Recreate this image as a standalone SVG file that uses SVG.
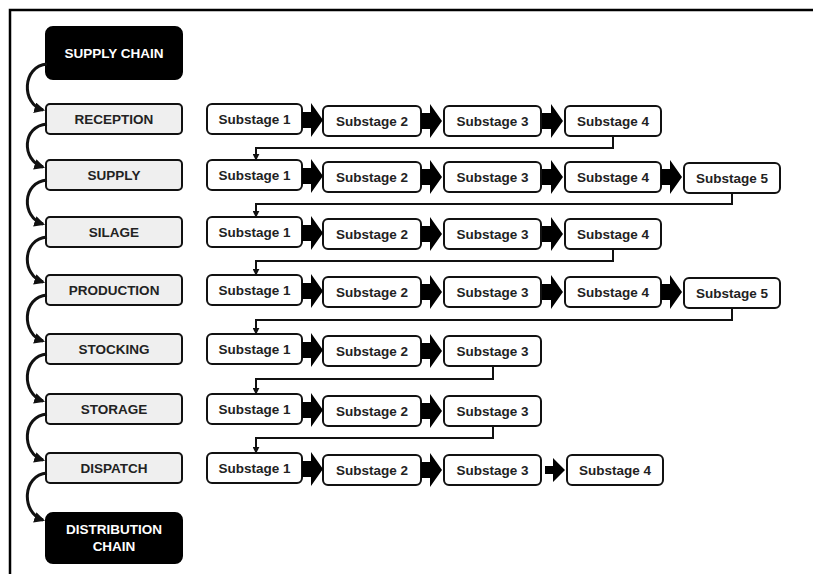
<svg xmlns="http://www.w3.org/2000/svg" width="813" height="574" viewBox="0 0 813 574">
<style>
.frame{stroke:#000;stroke-width:2.5;fill:none}
.dark{fill:#000;stroke:#000;stroke-width:2}
.stage{fill:#efefef;stroke:#111;stroke-width:2}
.sub{fill:#fff;stroke:#111;stroke-width:2}
.tw{font-family:"Liberation Sans",Arial,sans-serif;font-weight:bold;font-size:13.5px;fill:#fff;text-anchor:middle}
.tb{font-family:"Liberation Sans",Arial,sans-serif;font-weight:bold;font-size:13.5px;fill:#222;text-anchor:middle}
.curve{fill:none;stroke:#111;stroke-width:3}
.link{fill:none;stroke:#111;stroke-width:2}
.blk{fill:#000}
</style>
<defs>
<marker id="ah" viewBox="0 0 10 10" refX="8" refY="5" markerWidth="3.6" markerHeight="3.6" orient="auto" markerUnits="strokeWidth">
<path d="M0,0 L10,5 L0,10 Z" fill="#111"/>
</marker>
<marker id="ah2" viewBox="0 0 10 10" refX="9" refY="5" markerWidth="3.5" markerHeight="3.5" orient="auto" markerUnits="strokeWidth">
<path d="M0,0 L10,5 L0,10 Z" fill="#111"/>
</marker>
<path id="ba" d="M0,-8 H9 V-17 L21,0 L9,17 V8 H0 Z"/>
</defs>
<rect width="813" height="574" fill="#fff"/>
<path class="frame" d="M10,574 V10 H813"/>

<g id="supply-chain"><rect class="dark" x="46" y="27" width="136" height="52" rx="7"/><text class="tw" x="114" y="57.5">SUPPLY CHAIN</text></g>
<g id="reception"><rect class="stage" x="46" y="104" width="136" height="30" rx="4"/><text class="tb" x="114" y="123.7">RECEPTION</text></g>
<g id="supply"><rect class="stage" x="46" y="160" width="136" height="30" rx="4"/><text class="tb" x="114" y="179.7">SUPPLY</text></g>
<g id="silage"><rect class="stage" x="46" y="217" width="136" height="30" rx="4"/><text class="tb" x="114" y="236.7">SILAGE</text></g>
<g id="production"><rect class="stage" x="46" y="275" width="136" height="30" rx="4"/><text class="tb" x="114" y="294.7">PRODUCTION</text></g>
<g id="stocking"><rect class="stage" x="46" y="334" width="136" height="30" rx="4"/><text class="tb" x="114" y="353.7">STOCKING</text></g>
<g id="storage"><rect class="stage" x="46" y="394" width="136" height="30" rx="4"/><text class="tb" x="114" y="413.7">STORAGE</text></g>
<g id="dispatch"><rect class="stage" x="46" y="453" width="136" height="30" rx="4"/><text class="tb" x="114" y="472.7">DISPATCH</text></g>
<g id="distribution-chain"><rect class="dark" x="46" y="513" width="136" height="50" rx="7"/><text class="tw" x="114" y="534">DISTRIBUTION</text><text class="tw" x="114" y="551">CHAIN</text></g>

<g id="r1s1"><rect class="sub" x="207" y="104" width="95" height="30" rx="5"/><text class="tb" x="254.5" y="123.7">Substage 1</text></g>
<g id="r1s2"><rect class="sub" x="323" y="106" width="98" height="30" rx="5"/><text class="tb" x="372" y="125.7">Substage 2</text></g>
<g id="r1s3"><rect class="sub" x="444" y="106" width="97" height="30" rx="5"/><text class="tb" x="492.5" y="125.7">Substage 3</text></g>
<g id="r1s4"><rect class="sub" x="565" y="106" width="96" height="30" rx="5"/><text class="tb" x="613" y="125.7">Substage 4</text></g>

<g id="r2s1"><rect class="sub" x="207" y="160" width="95" height="30" rx="5"/><text class="tb" x="254.5" y="179.7">Substage 1</text></g>
<g id="r2s2"><rect class="sub" x="323" y="162" width="98" height="30" rx="5"/><text class="tb" x="372" y="181.7">Substage 2</text></g>
<g id="r2s3"><rect class="sub" x="444" y="162" width="97" height="30" rx="5"/><text class="tb" x="492.5" y="181.7">Substage 3</text></g>
<g id="r2s4"><rect class="sub" x="565" y="162" width="96" height="30" rx="5"/><text class="tb" x="613" y="181.7">Substage 4</text></g>
<g id="r2s5"><rect class="sub" x="684" y="163" width="96" height="30" rx="5"/><text class="tb" x="732" y="182.7">Substage 5</text></g>

<g id="r3s1"><rect class="sub" x="207" y="217" width="95" height="30" rx="5"/><text class="tb" x="254.5" y="236.7">Substage 1</text></g>
<g id="r3s2"><rect class="sub" x="323" y="219" width="98" height="30" rx="5"/><text class="tb" x="372" y="238.7">Substage 2</text></g>
<g id="r3s3"><rect class="sub" x="444" y="219" width="97" height="30" rx="5"/><text class="tb" x="492.5" y="238.7">Substage 3</text></g>
<g id="r3s4"><rect class="sub" x="565" y="219" width="96" height="30" rx="5"/><text class="tb" x="613" y="238.7">Substage 4</text></g>

<g id="r4s1"><rect class="sub" x="207" y="275" width="95" height="30" rx="5"/><text class="tb" x="254.5" y="294.7">Substage 1</text></g>
<g id="r4s2"><rect class="sub" x="323" y="277" width="98" height="30" rx="5"/><text class="tb" x="372" y="296.7">Substage 2</text></g>
<g id="r4s3"><rect class="sub" x="444" y="277" width="97" height="30" rx="5"/><text class="tb" x="492.5" y="296.7">Substage 3</text></g>
<g id="r4s4"><rect class="sub" x="565" y="277" width="96" height="30" rx="5"/><text class="tb" x="613" y="296.7">Substage 4</text></g>
<g id="r4s5"><rect class="sub" x="684" y="278" width="96" height="30" rx="5"/><text class="tb" x="732" y="297.7">Substage 5</text></g>

<g id="r5s1"><rect class="sub" x="207" y="334" width="95" height="30" rx="5"/><text class="tb" x="254.5" y="353.7">Substage 1</text></g>
<g id="r5s2"><rect class="sub" x="323" y="336" width="98" height="30" rx="5"/><text class="tb" x="372" y="355.7">Substage 2</text></g>
<g id="r5s3"><rect class="sub" x="444" y="336" width="97" height="30" rx="5"/><text class="tb" x="492.5" y="355.7">Substage 3</text></g>

<g id="r6s1"><rect class="sub" x="207" y="394" width="95" height="30" rx="5"/><text class="tb" x="254.5" y="413.7">Substage 1</text></g>
<g id="r6s2"><rect class="sub" x="323" y="396" width="98" height="30" rx="5"/><text class="tb" x="372" y="415.7">Substage 2</text></g>
<g id="r6s3"><rect class="sub" x="444" y="396" width="97" height="30" rx="5"/><text class="tb" x="492.5" y="415.7">Substage 3</text></g>

<g id="r7s1"><rect class="sub" x="207" y="453" width="95" height="30" rx="5"/><text class="tb" x="254.5" y="472.7">Substage 1</text></g>
<g id="r7s2"><rect class="sub" x="323" y="455" width="98" height="30" rx="5"/><text class="tb" x="372" y="474.7">Substage 2</text></g>
<g id="r7s3"><rect class="sub" x="444" y="455" width="97" height="30" rx="5"/><text class="tb" x="492.5" y="474.7">Substage 3</text></g>
<g id="r7s4"><rect class="sub" x="567" y="455" width="96" height="30" rx="5"/><text class="tb" x="615" y="474.7">Substage 4</text></g>

<g id="connectors">
<path class="curve" marker-end="url(#ah)" d="M47,64 C22,66 21,104 43,110"/>
<path class="curve" marker-end="url(#ah)" d="M47,124 C22,126 21,160 43,167"/>
<path class="curve" marker-end="url(#ah)" d="M47,180 C22,182 21,217 43,224"/>
<path class="curve" marker-end="url(#ah)" d="M47,237 C22,239 21,275 43,282"/>
<path class="curve" marker-end="url(#ah)" d="M47,295 C22,297 21,334 43,341"/>
<path class="curve" marker-end="url(#ah)" d="M47,354 C22,356 21,394 43,401"/>
<path class="curve" marker-end="url(#ah)" d="M47,414 C22,416 21,453 43,460"/>
<path class="curve" marker-end="url(#ah)" d="M47,473 C22,475 21,513 43,520"/>

<g class="blk">
<use href="#ba" x="302" y="120"/><use href="#ba" x="421" y="121"/><use href="#ba" x="542" y="121"/>
<use href="#ba" x="302" y="176"/><use href="#ba" x="421" y="177"/><use href="#ba" x="542" y="177"/><use href="#ba" x="661" y="177"/>
<use href="#ba" x="302" y="233"/><use href="#ba" x="421" y="234"/><use href="#ba" x="542" y="234"/>
<use href="#ba" x="302" y="291"/><use href="#ba" x="421" y="292"/><use href="#ba" x="542" y="292"/><use href="#ba" x="661" y="292"/>
<use href="#ba" x="302" y="350"/><use href="#ba" x="421" y="351"/>
<use href="#ba" x="302" y="410"/><use href="#ba" x="421" y="411"/>
<use href="#ba" x="302" y="469"/><use href="#ba" x="421" y="470"/>
<path d="M545,466 H553 V458 L565,470 L553,482 V474 H545 Z"/>
</g>

<path class="link" marker-end="url(#ah2)" d="M613,136 V148 H256 V160"/>
<path class="link" marker-end="url(#ah2)" d="M732,193 V204 H256 V217"/>
<path class="link" marker-end="url(#ah2)" d="M613,249 V261 H256 V275"/>
<path class="link" marker-end="url(#ah2)" d="M732,308 V320 H256 V334"/>
<path class="link" marker-end="url(#ah2)" d="M493,366 V379 H256 V394"/>
<path class="link" marker-end="url(#ah2)" d="M493,426 V438 H256 V453"/>
</g>
</svg>
